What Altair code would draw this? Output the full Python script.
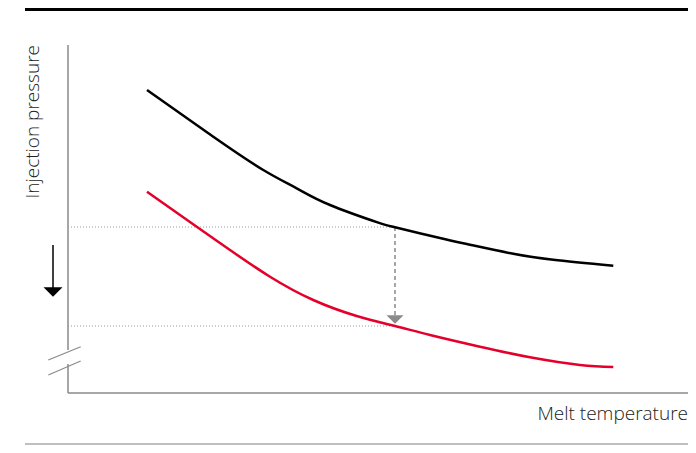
import altair as alt
import pandas as pd

# ---- data (arbitrary units, 0-100) ----
temperature_standard = [12.74, 23.44, 31.5, 36.89, 42.26, 50.05, 52.74, 59.47, 64.84, 71.82, 78.27, 87.95]
pressure_standard = [87.07, 73.65, 64.08, 58.82, 54.02, 48.94, 47.61, 44.74, 42.6, 40.0, 38.3, 36.58]

temperature_reduced = [12.74, 20.76, 26.13, 32.58, 39.56, 46.56, 52.74, 58.39, 66.45, 74.52, 82.58, 87.95]
pressure_reduced = [57.84, 47.79, 41.09, 33.42, 26.72, 22.13, 19.25, 16.67, 13.30, 10.26, 8.05, 7.47]

series_names = ["Standard", "Reduced"]
series_colors = ["#000000", "#e4002b"]

marker_temperature = [52.74]
marker_levels = [47.7, 19.25]          # dotted guide levels
marker_arrow = [47.7, 22.1, 21.1]      # dashed start, dashed end, arrow head

x_title = "Melt temperature"
y_title = "Injection pressure"

df = pd.concat([
    pd.DataFrame({"t": temperature_standard, "p": pressure_standard, "series": series_names[0]}),
    pd.DataFrame({"t": temperature_reduced, "p": pressure_reduced, "series": series_names[1]}),
])

xs = alt.Scale(domain=[0, 100], nice=False, zero=False)
ys = alt.Scale(domain=[0, 100], nice=False, zero=False)

W, H = 620, 348
GRAY = "#8a8a8a"
TXT = "#222222"
FONT = "Open Sans"
FS = 19

one = pd.DataFrame({"k": [0]})

curves = alt.Chart(df).mark_line(strokeWidth=2.5, interpolate="natural").encode(
    x=alt.X("t:Q", scale=xs, axis=None),
    y=alt.Y("p:Q", scale=ys, axis=None),
    color=alt.Color("series:N", scale=alt.Scale(domain=series_names, range=series_colors), legend=None),
)

guides_df = pd.DataFrame({"x0": [0, 0], "x1": marker_temperature * 2, "y": marker_levels})
guides = alt.Chart(guides_df).mark_rule(strokeDash=[1, 2], color="#999999", strokeWidth=1).encode(
    x=alt.X("x0:Q", scale=xs, axis=None), x2="x1:Q", y=alt.Y("y:Q", scale=ys, axis=None)
)

dash_df = pd.DataFrame({"x": marker_temperature, "y0": [marker_arrow[0]], "y1": [marker_arrow[1]]})
dashed = alt.Chart(dash_df).mark_rule(strokeDash=[4, 3], color=GRAY, strokeWidth=1.5).encode(
    x=alt.X("x:Q", scale=xs, axis=None), y=alt.Y("y0:Q", scale=ys, axis=None), y2="y1:Q"
)

head_df = pd.DataFrame({"x": marker_temperature, "y": [marker_arrow[2]]})
head = alt.Chart(head_df).mark_point(
    shape="M-1,-0.5L1,-0.5L0,0.5Z", filled=True, size=289, color=GRAY, opacity=1, strokeWidth=0
).encode(x=alt.X("x:Q", scale=xs, axis=None), y=alt.Y("y:Q", scale=ys, axis=None))

# ---- frame decorations (pixel positions relative to the plot area) ----
def rule(x, x2, y, y2, color, width):
    return alt.Chart(one).mark_rule(color=color, strokeWidth=width).encode(
        x=alt.value(x), x2=alt.value(x2), y=alt.value(y), y2=alt.value(y2)
    )

top_bar = rule(-43, W, -36, -36, "#000000", 4)
bottom_bar = rule(-43, W, 399, 399, "#aaaaaa", 1.5)
y_axis_a = rule(0, 0, 0, 305, GRAY, 1.5)
y_axis_b = rule(0, 0, 319, H, GRAY, 1.5)
x_axis = rule(0, W, H, H, GRAY, 1.5)
break_a = rule(-19.7, 12.7, 315, 301.7, GRAY, 1.2)
break_b = rule(-19.7, 12.7, 330, 316, GRAY, 1.2)
left_arrow_line = rule(-15, -15, 200, 245, "#000000", 1.5)
left_arrow_head = alt.Chart(one).mark_point(
    shape="M-1,-0.5L1,-0.5L0,0.5Z", filled=True, size=361, color="#000000", opacity=1, strokeWidth=0
).encode(x=alt.value(-15), y=alt.value(247))

x_label = alt.Chart(one).mark_text(
    text=x_title, align="right", baseline="alphabetic", font=FONT, fontWeight=300, fontSize=FS, color=TXT
).encode(x=alt.value(W), y=alt.value(375))

y_label = alt.Chart(one).mark_text(
    text=y_title, angle=270, align="right", baseline="alphabetic", font=FONT, fontWeight=300, fontSize=FS, color=TXT
).encode(x=alt.value(-29), y=alt.value(0))

chart = alt.layer(
    top_bar, bottom_bar, y_axis_a, y_axis_b, x_axis, break_a, break_b,
    guides, dashed, head, curves, left_arrow_line, left_arrow_head, x_label, y_label,
).properties(
    width=W, height=H, autosize="none",
    padding={"left": 60, "top": 37, "right": 0, "bottom": 52},
).configure_view(stroke=None)

chart.save("out.html", embed_options={"renderer": "svg", "actions": False})
